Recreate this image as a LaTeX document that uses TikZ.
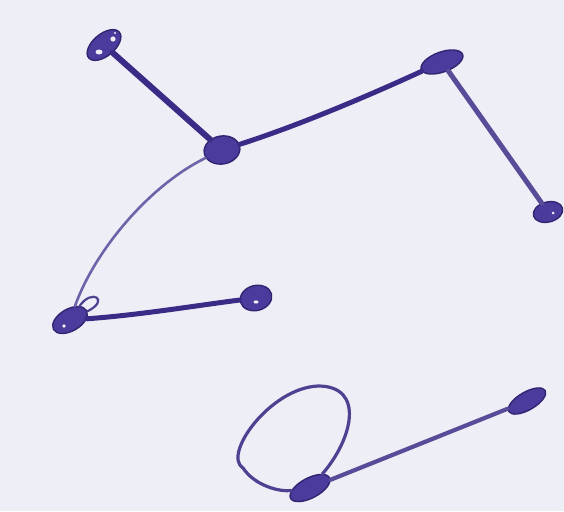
\documentclass[tikz,border=0pt]{standalone}
\usetikzlibrary{shapes.geometric}
\definecolor{bg}{HTML}{EEEEF6}
\definecolor{ink}{HTML}{3A2C86}
\definecolor{inkfill}{HTML}{4A3B9C}
\definecolor{inklight}{HTML}{6C63A8}
\begin{document}
\begin{tikzpicture}[x=1pt,y=-1pt,
  blob/.style={ellipse, draw=ink!85!black, line width=1.4pt, fill=inkfill, inner sep=0pt},
  edgeline/.style={draw=ink, line width=5pt, line cap=round},
  thinline/.style={draw=inklight, line width=2.6pt, line cap=round},
  loopline/.style={draw=ink!90, line width=3.2pt, line cap=round},
  hilite/.style={fill=bg}]
\fill[bg] (0,0) rectangle (564,511);
\useasboundingbox (0,0) rectangle (564,511);
% nodes
\node[blob, minimum width=40pt, minimum height=22pt, rotate=40] (A) at (104,45) {};
\node[blob, minimum width=36pt, minimum height=28pt, rotate=10] (B) at (222,150) {};
\node[blob, minimum width=44pt, minimum height=20pt, rotate=20] (C) at (442,62) {};
\node[blob, minimum width=30pt, minimum height=20pt, rotate=15] (D) at (548,212) {};
\node[blob, minimum width=38pt, minimum height=22pt, rotate=30] (E) at (70,320) {};
\node[blob, minimum width=32pt, minimum height=25pt, rotate=15] (F) at (256,298) {};
\node[blob, minimum width=44pt, minimum height=20pt, rotate=28] (G) at (310,488) {};
\node[blob, minimum width=42pt, minimum height=18pt, rotate=30] (H) at (527,401) {};
% edges
\draw[edgeline, line width=6pt] (A) -- (B);
\draw[edgeline] (B) .. controls (300,125) and (370,95) .. (C);
\draw[edgeline, draw=ink!85] (C) -- (D);
\draw[thinline] (B) .. controls (150,185) and (95,250) .. (E);
\draw[edgeline] (E) .. controls (140,315) and (200,305) .. (F);
\draw[edgeline, line width=4.2pt, draw=ink!85] (G) -- (H);
\coordinate (L1) at (318,386);
\coordinate (L2) at (243,468);
\draw[loopline] (G) .. controls (352,440) and (366,386) .. (L1)
  .. controls (270,388) and (222,455) .. (L2)
  .. controls (255,486) and (280,492) .. (G);
\draw[loopline, line width=2.2pt] (E) .. controls (92,288) and (110,300) .. (E);
% white highlights
\fill[hilite] (113,39) circle (2.6pt);
\fill[hilite] (99,52) ellipse (3.5pt and 2.5pt);
\fill[hilite] (64,326) circle (1.8pt);
\fill[hilite] (256,302) ellipse (2.5pt and 1.6pt);
\fill[hilite] (553,213) circle (1.5pt);
\fill[hilite] (115,33) circle (1.2pt);
\end{tikzpicture}
\end{document}
